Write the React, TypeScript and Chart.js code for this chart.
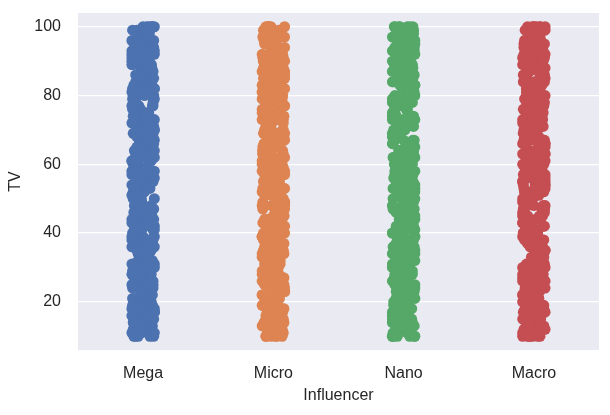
import { Chart, registerables } from "chart.js";
import React, { useEffect, useRef } from "react";

Chart.register(...registerables);

const categories = ["Mega", "Micro", "Nano", "Macro"];
const colors = ["#4C72B0", "#DD8452", "#55A868", "#C44E52"];
const yTicks = [20, 40, 60, 80, 100];

// TV values per influencer group (estimated from the strips)
const megaTV = [
  57, 23, 88, 41, 12, 95, 70, 34, 66, 18, 81, 49, 100, 27, 62, 10, 75, 39, 92, 55,
  15, 84, 46, 31, 98, 68, 21, 59, 77, 13, 43, 90, 36, 64, 25, 86, 52, 17, 73, 97,
  29, 48, 82, 11, 60, 38, 94, 20, 71, 54, 87, 33, 65, 14, 79, 44, 99, 26, 58, 91,
  37, 69, 16, 83, 50, 24, 76, 96, 42, 63, 19, 89, 35, 56, 72, 28, 93, 47, 80, 22,
  61, 100, 40, 85, 30, 67, 11, 53, 78, 45, 97, 32, 74, 18, 88, 51, 26, 63, 94, 39,
  70, 14, 82, 57, 35, 90, 48, 23, 66, 99, 42, 77, 15, 59, 86, 31, 73, 20, 95, 52,
  37, 81, 64, 12, 91, 46, 28, 69, 84, 55, 17, 75, 98, 40, 61, 25, 87, 50, 33, 79,
  13, 68, 93, 44, 58, 21, 83, 36, 71, 10, 54, 89, 27, 65, 43, 96, 19, 76, 38, 62,
  85, 30, 49, 100, 16, 72, 57, 34, 92, 24, 80, 46, 67, 11, 88, 53, 29, 74, 41, 97,
  22, 60, 83, 35, 70, 14, 51, 94, 39, 78, 26, 63, 18, 86, 47, 99, 32, 56, 75, 12,
  90, 44, 68, 21, 81, 58, 37, 95, 15, 64, 50, 87, 28, 73, 42, 100, 19, 61, 84, 33,
  77, 10, 55, 92, 40, 69, 25, 82, 48, 13, 96, 36, 71, 59, 23, 89, 45, 66, 17, 79,
  62, 18, 85, 37, 74, 11, 93, 50, 28, 67, 99, 43, 15, 80, 56, 32, 71, 24, 89, 46,
  13, 64, 97, 39, 76, 21, 58, 87, 34, 53, 10, 82, 69, 27, 95, 44, 16, 73, 60, 38,
  91, 22, 55, 78, 47, 100, 30, 66, 19, 84, 41, 72, 12, 59, 96, 35, 81, 25, 63, 49,
  88, 17, 70, 42, 94, 29, 57, 14, 77, 52, 36, 98, 23, 68, 45, 86, 11, 61, 33, 79,
  20, 92, 54, 40, 75, 15, 65, 100, 31, 83, 48, 26, 90, 58, 13, 71, 37, 96, 62, 22,
  80, 44, 67, 18, 87, 51, 34, 93, 10, 59, 76, 28, 64, 99, 41, 16, 85, 53, 30, 72,
  47, 95, 24, 60, 82, 12, 69, 38, 90, 55, 19, 78, 43, 97, 26, 66, 14, 84, 50, 35,
  73, 21, 89, 57, 32, 94, 46, 11, 63, 81, 39, 100, 27, 70, 54, 17, 86, 42, 61, 25,
];
const microTV = [
  34, 78, 12, 91, 56, 23, 67, 100, 45, 19, 83, 61, 28, 95, 50, 14, 72, 39, 87, 10,
  64, 31, 98, 53, 20, 76, 42, 89, 16, 59, 35, 81, 25, 93, 47, 70, 11, 85, 57, 30,
  97, 62, 18, 74, 44, 90, 27, 66, 52, 13, 80, 37, 99, 22, 69, 48, 84, 15, 58, 33,
  92, 40, 75, 21, 63, 88, 29, 54, 100, 17, 79, 43, 68, 26, 94, 51, 36, 82, 12, 60,
  73, 24, 96, 46, 19, 86, 55, 32, 71, 10, 65, 41, 90, 28, 77, 53, 15, 99, 38, 62,
  84, 20, 49, 74, 35, 93, 57, 11, 68, 44, 87, 26, 80, 59, 16, 97, 42, 70, 31, 55,
  23, 89, 64, 38, 76, 13, 95, 50, 29, 83, 47, 67, 18, 91, 36, 72, 58, 21, 85, 45,
  100, 33, 61, 14, 78, 52, 27, 94, 40, 66, 10, 81, 56, 24, 88, 39, 73, 17, 63, 98,
  30, 48, 92, 22, 75, 60, 12, 86, 43, 69, 34, 96, 54, 19, 79, 37, 65, 27, 90, 51,
  15, 82, 46, 71, 25, 99, 58, 32, 87, 11, 62, 41, 77, 20, 93, 53, 35, 68, 16, 84,
  48, 74, 28, 97, 39, 57, 13, 89, 66, 23, 80, 44, 100, 30, 61, 18, 76, 52, 94, 37,
  70, 10, 85, 49, 26, 91, 63, 35, 78, 14, 55, 96, 42, 67, 21, 83, 47, 73, 31, 88,
  77, 29, 53, 96, 14, 68, 40, 85, 22, 61, 100, 35, 72, 18, 49, 90, 26, 64, 11, 83,
  57, 31, 94, 45, 19, 75, 60, 12, 88, 38, 66, 23, 99, 51, 16, 80, 43, 70, 27, 92,
  55, 10, 86, 34, 62, 97, 21, 73, 47, 15, 82, 58, 36, 91, 25, 67, 13, 79, 44, 100,
  30, 63, 87, 20, 52, 74, 39, 95, 17, 69, 48, 84, 11, 59, 33, 93, 24, 76, 42, 65,
  14, 89, 56, 28, 98, 37, 71, 19, 81, 50, 26, 61, 96, 40, 12, 85, 54, 31, 78, 46,
  90, 22, 67, 15, 73, 99, 35, 58, 83, 10, 64, 41, 94, 27, 70, 52, 18, 87, 45, 33,
  60, 92, 13, 76, 49, 24, 97, 38, 66, 16, 80, 55, 29, 91, 43, 72, 21, 86, 57, 100,
  36, 63, 11, 79, 48, 25, 95, 53, 17, 74, 39, 88, 30, 65, 14, 82, 59, 44, 98, 20,
];
const nanoTV = [
  90, 15, 63, 38, 77, 24, 52, 99, 11, 68, 43, 85, 30, 57, 19, 94, 71, 36, 48, 82,
  13, 60, 27, 96, 50, 74, 21, 88, 41, 66, 10, 79, 33, 55, 92, 17, 70, 45, 100, 26,
  62, 86, 35, 12, 58, 81, 23, 97, 47, 73, 29, 64, 16, 89, 54, 39, 78, 20, 93, 44,
  67, 31, 84, 11, 59, 98, 37, 72, 25, 51, 87, 14, 65, 42, 95, 28, 76, 53, 18, 83,
  40, 61, 100, 22, 69, 34, 91, 49, 13, 80, 56, 32, 75, 10, 88, 46, 63, 27, 97, 58,
  19, 71, 36, 85, 52, 24, 94, 43, 67, 15, 79, 30, 60, 99, 38, 74, 21, 86, 48, 12,
  92, 55, 33, 70, 17, 82, 44, 64, 26, 96, 50, 77, 35, 11, 89, 57, 23, 68, 41, 93,
  29, 73, 14, 84, 53, 38, 100, 62, 20, 78, 46, 90, 31, 66, 16, 87, 54, 25, 95, 42,
  71, 10, 59, 81, 34, 98, 48, 22, 75, 63, 13, 91, 37, 69, 28, 85, 51, 18, 80, 45,
  94, 33, 65, 12, 88, 56, 26, 72, 40, 99, 19, 61, 83, 35, 76, 50, 15, 92, 44, 67,
  24, 86, 58, 30, 97, 41, 70, 11, 79, 53, 36, 90, 21, 64, 47, 100, 17, 74, 55, 32,
  82, 14, 60, 39, 95, 27, 68, 49, 87, 22, 73, 43, 10, 89, 57, 34, 78, 16, 63, 93,
  41, 86, 22, 69, 13, 95, 57, 34, 78, 10, 64, 49, 91, 27, 73, 18, 100, 53, 36, 82,
  25, 60, 97, 44, 15, 77, 31, 88, 55, 20, 68, 39, 93, 12, 74, 50, 29, 85, 62, 16,
  99, 45, 71, 23, 58, 83, 37, 11, 66, 92, 28, 54, 80, 19, 47, 96, 33, 75, 14, 61,
  87, 40, 24, 70, 52, 98, 17, 63, 35, 84, 10, 56, 90, 42, 26, 79, 65, 13, 94, 48,
  72, 30, 59, 100, 21, 81, 38, 67, 15, 89, 51, 27, 76, 44, 97, 11, 62, 34, 85, 57,
  19, 93, 46, 70, 23, 54, 88, 32, 64, 12, 79, 41, 99, 58, 25, 73, 36, 91, 16, 66,
  50, 83, 28, 60, 95, 14, 43, 77, 31, 86, 55, 20, 68, 100, 39, 74, 11, 57, 92, 33,
  80, 47, 18, 63, 96, 26, 71, 52, 10, 87, 40, 65, 22, 94, 53, 35, 78, 13, 61, 84,
];
const macroTV = [
  45, 82, 19, 67, 31, 96, 54, 12, 88, 40, 73, 25, 99, 58, 16, 84, 37, 61, 10, 92,
  49, 76, 22, 65, 33, 100, 51, 14, 87, 42, 70, 28, 95, 56, 18, 80, 36, 63, 11, 90,
  47, 74, 24, 98, 59, 30, 85, 13, 68, 43, 93, 20, 78, 52, 35, 97, 15, 62, 81, 27,
  71, 46, 89, 10, 57, 34, 94, 23, 66, 83, 39, 17, 75, 50, 100, 29, 60, 86, 12, 48,
  91, 38, 69, 21, 79, 55, 32, 96, 14, 64, 44, 87, 26, 72, 53, 19, 99, 41, 77, 30,
  58, 11, 84, 36, 92, 62, 24, 70, 47, 16, 89, 55, 33, 97, 65, 20, 80, 43, 13, 74,
  51, 95, 28, 67, 39, 86, 15, 60, 82, 35, 100, 49, 22, 76, 57, 10, 93, 42, 68, 31,
  88, 18, 63, 45, 98, 25, 73, 54, 37, 90, 12, 79, 61, 27, 94, 46, 17, 71, 52, 85,
  33, 66, 21, 97, 40, 58, 14, 83, 69, 29, 91, 48, 75, 11, 62, 36, 87, 23, 56, 100,
  44, 78, 16, 64, 32, 95, 50, 19, 81, 38, 70, 26, 92, 59, 13, 86, 47, 73, 30, 99,
  41, 67, 10, 84, 55, 24, 77, 35, 96, 61, 18, 89, 43, 72, 28, 93, 53, 15, 80, 39,
  65, 22, 98, 48, 31, 74, 57, 12, 90, 37, 68, 20, 85, 45, 100, 27, 60, 17, 79, 52,
  26, 71, 93, 15, 58, 40, 84, 12, 66, 97, 33, 77, 20, 54, 88, 43, 10, 69, 31, 95,
  62, 18, 80, 47, 100, 24, 73, 36, 91, 13, 56, 85, 29, 64, 42, 98, 17, 75, 50, 22,
  87, 39, 61, 11, 94, 53, 27, 70, 45, 83, 16, 59, 96, 34, 78, 21, 67, 49, 90, 14,
  72, 38, 57, 99, 25, 81, 44, 12, 65, 92, 30, 76, 52, 19, 86, 41, 63, 10, 97, 55,
  35, 79, 23, 68, 100, 46, 15, 89, 60, 28, 74, 51, 94, 17, 62, 37, 83, 11, 70, 48,
  91, 26, 57, 82, 13, 66, 39, 99, 21, 77, 54, 32, 88, 45, 16, 72, 95, 30, 61, 43,
  85, 10, 68, 50, 24, 93, 36, 79, 58, 14, 90, 47, 20, 64, 98, 33, 75, 53, 12, 87,
  40, 69, 27, 96, 56, 18, 81, 42, 63, 100, 22, 73, 49, 11, 84, 35, 92, 59, 29, 76,
];
const seriesTV = [megaTV, microTV, nanoTV, macroTV];

// strip jitter offsets (category units)
const jitter = [
  -0.086, 0.047, -0.019, 0.076, -0.057, 0.01, 0.086, -0.038, 0.029, -0.081, 0.062,
  -0.01, 0.043, -0.067, 0.019, 0.081, -0.048, 0.0, -0.086, 0.067, -0.029, 0.038,
  -0.071, 0.086, -0.014, 0.052, -0.057, 0.014, -0.033, 0.071, -0.076,
];

const FONT = "'Liberation Sans', Arial, sans-serif";
const TEXT = "#262626";

// fills the plot area with the seaborn darkgrid background
const bgPlugin = {
  id: "plotBg",
  beforeDraw(chart: any) {
    const { ctx, chartArea } = chart;
    ctx.save();
    ctx.fillStyle = "#EAEAF2";
    ctx.fillRect(chartArea.left, chartArea.top, chartArea.width, chartArea.height);
    ctx.restore();
  },
};

const App: React.FC = () => {
  const canvasRef = useRef<HTMLCanvasElement>(null);
  const chartInstance = useRef<Chart | null>(null);

  useEffect(() => {
    document.body.style.margin = "0";
    const ctx = canvasRef.current?.getContext("2d");
    if (!ctx) return;

    chartInstance.current?.destroy();

    chartInstance.current = new Chart(ctx, {
      type: "scatter",
      data: {
        datasets: seriesTV.map((vals, ci) => ({
          label: categories[ci],
          data: vals.map((v, i) => ({ x: ci + jitter[i % jitter.length], y: v })),
          backgroundColor: colors[ci],
          pointBackgroundColor: colors[ci],
          pointBorderWidth: 0,
          pointRadius: 5.5,
        })),
      },
      options: {
        responsive: false,
        animation: false,
        layout: { padding: { top: 13, right: 11, left: 0, bottom: 0 } },
        plugins: {
          legend: { display: false },
          tooltip: { enabled: false },
        },
        scales: {
          x: {
            type: "linear",
            min: -0.5,
            max: 3.5,
            afterBuildTicks: (scale: any) => {
              scale.ticks = categories.map((_, i) => ({ value: i }));
            },
            afterFit: (scale: any) => {
              scale.height = 65;
              scale.paddingLeft = 0;
              scale.paddingRight = 0;
            },
            ticks: {
              callback: (v: any) => categories[v] ?? "",
              color: TEXT,
              font: { family: FONT, size: 16 },
              padding: 14,
              maxRotation: 0,
            },
            grid: { display: false, drawTicks: false },
            border: { display: false },
            title: {
              display: true,
              text: "Influencer",
              color: TEXT,
              font: { family: FONT, size: 16 },
              padding: { top: 0, bottom: 10 },
            },
          },
          y: {
            min: 6,
            max: 104,
            afterBuildTicks: (scale: any) => {
              scale.ticks = yTicks.map((v) => ({ value: v }));
            },
            afterFit: (scale: any) => {
              scale.width = 78;
              scale.paddingTop = 0;
              scale.paddingBottom = 0;
            },
            ticks: {
              color: TEXT,
              font: { family: FONT, size: 16 },
              padding: 17,
            },
            grid: { color: "#FFFFFF", lineWidth: 1.3, drawTicks: false },
            border: { display: false },
            title: {
              display: true,
              text: "TV",
              color: TEXT,
              font: { family: FONT, size: 16 },
              padding: { top: 6, bottom: 0 },
            },
          },
        },
      },
      plugins: [bgPlugin],
    });

    return () => {
      chartInstance.current?.destroy();
      chartInstance.current = null;
    };
  }, []);

  return (
    <div style={{ width: 610, height: 415 }}>
      <canvas ref={canvasRef} width={610} height={415} />
    </div>
  );
};

export default App;
